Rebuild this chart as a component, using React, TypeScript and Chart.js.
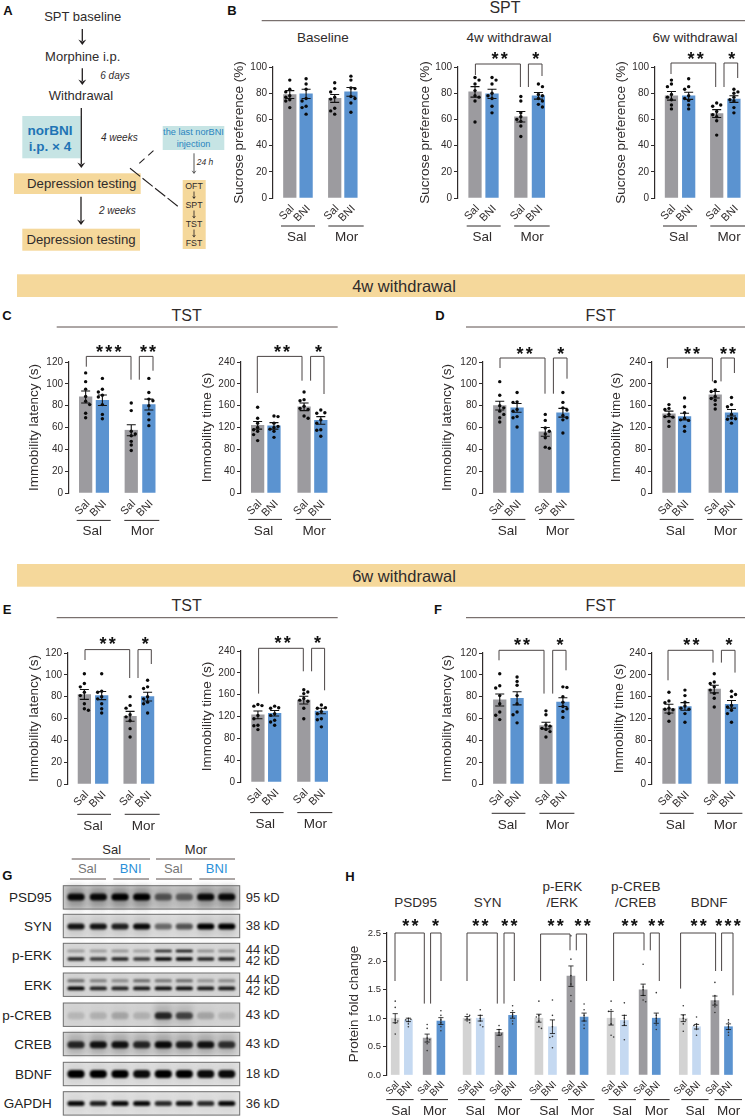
import React, { useEffect, useRef } from "react";
import { Chart, registerables } from "chart.js";

Chart.register(...registerables);

const FONT = '"Liberation Sans", Arial, sans-serif';
const GREY = "#9c9b9f";
const BLUE = "#5b93d0";
const LGREY = "#d3d3d3";
const LBLUE = "#c5d9f1";
const INK = "#2f2b2b";

// ---------- values ----------
const barNames = ["Sal", "BNI", "Sal", "BNI"];
const sptBaseMeans = [79, 79.5, 76, 81];
const sptBaseSems = [3, 3.5, 3, 3.3];
const sptBaseDots = [
  [90, 83, 81, 78, 77, 75, 74, 69],
  [91, 87, 83, 76, 74, 70, 69, 64],
  [88, 83.5, 81, 77, 75.5, 68.5, 66.5, 64],
  [93, 90, 84, 83.5, 77.5, 76, 72.5, 65.5],
];
const spt4Means = [81, 79.5, 62, 78];
const spt4Sems = [4, 3.5, 4, 2.5];
const spt4Dots = [
  [92, 90, 87, 82, 78, 77, 74, 58],
  [92, 90, 87, 80, 78, 76, 70, 65],
  [77.5, 74, 65, 62, 60, 58.5, 55, 47],
  [87, 85, 79, 78, 76, 74, 71.5, 69.5],
];
const spt6Means = [78, 78, 64.5, 75.5];
const spt6Sems = [3.3, 2.7, 3, 2.5];
const spt6Dots = [
  [90, 87, 85, 79, 77, 75, 71, 68],
  [91, 85, 83, 78, 76, 74.5, 71, 68],
  [72.5, 71, 70, 66, 63.5, 62, 59, 48],
  [83, 81, 80, 77, 75, 74, 69, 65],
];
const tst4LatMeans = [88, 85, 57.5, 81];
const tst4LatSems = [5.5, 4.8, 5, 5];
const tst4LatDots = [
  [110, 102, 95, 88.5, 84, 81, 73, 69],
  [105, 95, 92.5, 89.5, 88, 81, 72, 68],
  [82.5, 75.5, 56.5, 54, 52.5, 47.3, 44, 39],
  [105, 92, 86, 84.5, 80, 72.5, 67, 61.7],
];
const tst4TimeMeans = [124, 123, 158, 133];
const tst4TimeSems = [7, 6, 7, 7];
const tst4TimeDots = [
  [157, 137, 128, 120, 116, 113, 107, 96],
  [141, 140, 128, 122, 120, 117, 113, 102],
  [185, 171, 169, 159, 155, 153, 141, 137],
  [152, 147, 146, 134, 128, 116, 115, 104],
];
const fst4LatMeans = [80, 78, 56, 73.5];
const fst4LatSems = [4, 4, 4, 4];
const fst4LatDots = [
  [102, 89.5, 80, 78, 75, 72, 69, 65],
  [92, 83.5, 83, 76.5, 75, 70, 69, 60.5],
  [72, 66.5, 59.5, 56.5, 54, 50.5, 42, 41],
  [92, 83, 78, 76, 71, 69, 67, 55],
];
const fst4TimeMeans = [145, 140, 180, 147];
const fst4TimeSems = [5, 6, 6, 6];
const fst4TimeDots = [
  [162, 155, 153, 144, 140, 139, 131, 122],
  [174, 158, 147, 137, 134, 133, 122, 113],
  [204, 189, 186, 177, 173, 170, 162, 154],
  [175, 162, 158, 144, 137, 136, 135, 128],
];
const tst6LatMeans = [82, 81, 62, 80];
const tst6LatSems = [4.5, 3.7, 4.5, 4];
const tst6LatDots = [
  [101, 92, 89, 84, 81, 73.5, 69, 67.5],
  [101, 85, 84, 80, 78, 73.5, 69, 65],
  [80, 72, 69.5, 63.5, 61.5, 58, 50.7, 43],
  [95, 89, 87.5, 80, 78, 75, 73.5, 65],
];
const tst6TimeMeans = [123, 126, 150, 130];
const tst6TimeSems = [7, 5, 7, 5];
const tst6TimeDots = [
  [142, 140, 139, 122, 116, 104, 103, 96],
  [139, 136, 135, 125, 122, 113, 110, 104],
  [169, 165, 162, 153, 150, 148, 135, 116],
  [141, 136, 135, 129, 125, 116, 114, 101],
];
const fst6LatMeans = [77, 78.5, 53.5, 75];
const fst6LatSems = [5.5, 6, 3, 4];
const fst6LatDots = [
  [101, 90, 88, 81, 73.5, 66, 63, 59],
  [98, 94, 90.5, 81, 73.5, 66, 63.5, 56],
  [67, 63.5, 54, 53, 51, 50, 48, 43],
  [89, 88.5, 80, 75, 71, 69, 66.5, 61],
];
const fst6TimeMeans = [138, 142, 174, 146];
const fst6TimeSems = [8, 7, 7, 7];
const fst6TimeDots = [
  [168, 152, 149, 139, 137, 136, 129, 115],
  [172, 162, 150, 143, 139, 137, 129, 113],
  [202, 187, 184, 178, 172, 166, 157, 141],
  [170, 164, 160, 144, 141, 135, 129, 113],
];
const proteinMeans = [1, 0.97, 0.65, 0.95, 1, 1, 0.75, 1.05, 1, 0.85, 1.74, 1.02, 1, 0.96, 1.5, 1, 1, 0.85, 1.31, 0.85];
const proteinSems = [0.08, 0.03, 0.07, 0.06, 0.03, 0.05, 0.05, 0.05, 0.07, 0.12, 0.18, 0.07, 0.12, 0.09, 0.1, 0.09, 0.06, 0.04, 0.08, 0.05];
const proteinDots = [
  [1.3, 1.19, 0.97, 0.95, 0.91, 0.72],
  [1.0, 0.98, 0.97, 0.94, 0.9, 0.85],
  [0.89, 0.82, 0.65, 0.62, 0.55, 0.43],
  [1.13, 1.05, 0.97, 0.92, 0.85, 0.78],
  [1.07, 1.05, 1.0, 0.97, 0.95, 0.92],
  [1.15, 1.05, 1.0, 0.95, 0.88, 0.85],
  [0.87, 0.8, 0.75, 0.72, 0.7, 0.5],
  [1.22, 1.13, 1.07, 1.03, 0.95, 0.9],
  [1.3, 1.05, 1.02, 0.95, 0.85, 0.82],
  [1.32, 1.05, 0.85, 0.68, 0.66, 0.48],
  [2.45, 2.04, 1.75, 1.6, 1.4, 1.3],
  [1.25, 1.15, 1.05, 0.95, 0.88, 0.82],
  [1.3, 1.15, 1.12, 0.9, 0.7, 0.67],
  [1.27, 1.05, 1.0, 0.93, 0.88, 0.62],
  [1.95, 1.55, 1.5, 1.4, 1.32, 1.29],
  [1.45, 1.05, 1.0, 0.95, 0.88, 0.8],
  [1.22, 1.05, 1.0, 0.97, 0.9, 0.77],
  [1.02, 0.9, 0.87, 0.85, 0.8, 0.7],
  [1.63, 1.4, 1.3, 1.25, 1.2, 1.1],
  [0.97, 0.93, 0.85, 0.8, 0.75, 0.7],
];

const blotLanes = [76, 98.3, 120, 141.7, 163.3, 184.3, 205.7, 226.7];
const psd95Levels = [0.95, 0.95, 1, 1, 0.55, 0.5, 0.95, 0.95];
const synLevels = [0.9, 0.9, 0.85, 0.95, 0.5, 0.6, 1, 1];
const perkUpperLevels = [0.3, 0.3, 0.32, 0.28, 0.85, 0.95, 0.35, 0.35];
const perkLowerLevels = [0.85, 0.75, 0.85, 0.75, 1, 1, 0.85, 0.85];
const erkUpperLevels = [0.5, 0.4, 0.35, 0.5, 0.45, 0.5, 0.3, 0.35];
const erkLowerLevels = [1, 0.85, 0.85, 0.9, 0.95, 0.95, 0.9, 0.9];
const pcrebLevels = [0.12, 0.15, 0.2, 0.15, 0.8, 0.65, 0.2, 0.12];
const crebLevels = [0.8, 0.9, 0.9, 0.8, 0.95, 0.85, 0.9, 0.75];
const bdnfLevels = [1, 1, 1, 0.95, 1, 1, 0.95, 0.95];
const gapdhLevels = [0.95, 0.85, 0.95, 0.95, 0.8, 0.9, 0.8, 0.95];

// ---------- layout ----------
type Bracket = [number, number, number, number, number];
type Star = [number, number, string];
type Group = [number, number, number, number, number, string];
type Panel = {
  titleX: number; axisX: number; top: number; bottom: number; right: number;
  max: number; step: number; title: string; xs: number[]; barW: number;
  means: number[]; sems: number[]; dots: number[][]; colors: string[];
  brackets: Bracket[]; stars: Star[]; groups: Group[]; small?: boolean; names: string[];
};
const four = [GREY, BLUE, GREY, BLUE];
const SP = "Sucrose preference (%)";
const IL = "Immobility latency (s)";
const IT = "Immobility time (s)";

const mk = (p: Partial<Panel>): Panel =>
  ({ barW: 12.6, colors: four, names: barNames, ...p } as Panel);

const panels: Panel[] = [
  mk({ titleX: 239, axisX: 273, top: 67, bottom: 198, right: 372, max: 100, step: 20, title: SP,
    xs: [290.5, 307.5, 337.3, 354.2], means: sptBaseMeans, sems: sptBaseSems, dots: sptBaseDots,
    brackets: [], stars: [],
    groups: [[281, 315, 226, 296.7, 237.7, "Sal"], [328.3, 363.7, 226, 346.7, 237.7, "Mor"]] }),
  mk({ titleX: 425, axisX: 458.3, top: 67, bottom: 198, right: 560, max: 100, step: 20, title: SP,
    xs: [476, 493.7, 523.7, 542], means: spt4Means, sems: spt4Sems, dots: spt4Dots,
    brackets: [[475.7, 520.7, 64, 75, 87], [528.7, 542.3, 64, 87, 76]],
    stars: [[500, 55, "**"], [536, 55, "*"]],
    groups: [[467, 501, 226, 482.5, 237.7, "Sal"], [514.5, 550, 226, 532.5, 237.7, "Mor"]] }),
  mk({ titleX: 621, axisX: 655, top: 67, bottom: 198, right: 747, max: 100, step: 20, title: SP,
    xs: [672.2, 690.2, 719.5, 737.5], means: spt6Means, sems: spt6Sems, dots: spt6Dots,
    brackets: [[671, 715.7, 63, 74, 87], [724, 737.7, 63, 87, 78]],
    stars: [[695.7, 55, "**"], [731.7, 55, "*"]],
    groups: [[663, 697, 226, 678.7, 237.7, "Sal"], [710.3, 745, 226, 729, 237.7, "Mor"]] }),
  mk({ titleX: 34, axisX: 69, top: 362.3, bottom: 493.3, right: 175, max: 120, step: 20, title: IL,
    xs: [86.3, 103.7, 133.7, 152], means: tst4LatMeans, sems: tst4LatSems, dots: tst4LatDots,
    brackets: [[86.3, 131, 356.7, 367, 380], [139.3, 153, 356.7, 380, 371]],
    stars: [[108.7, 348, "***"], [148, 348, "**"]],
    groups: [[76.7, 110.7, 520.7, 92.3, 532, "Sal"], [124.3, 159.3, 520.7, 142.3, 532, "Mor"]] }),
  mk({ titleX: 206.7, axisX: 240.7, top: 362.3, bottom: 493.3, right: 345, max: 240, step: 40, title: IT,
    xs: [258, 275, 306.3, 323.7], means: tst4TimeMeans, sems: tst4TimeSems, dots: tst4TimeDots,
    brackets: [[257, 301.7, 356.7, 393.3, 381], [310.3, 323.7, 356.7, 381, 394.3]],
    stars: [[281.7, 348, "**"], [318.3, 348, "*"]],
    groups: [[248, 281.7, 519.7, 263.3, 531.7, "Sal"], [295.3, 330.7, 519.7, 313.7, 531.7, "Mor"]] }),
  mk({ titleX: 447.3, axisX: 483.3, top: 362.3, bottom: 493.3, right: 590, max: 120, step: 20, title: IL,
    xs: [500.7, 518.7, 548, 566.3], means: fst4LatMeans, sems: fst4LatSems, dots: fst4LatDots,
    brackets: [[500.3, 545.3, 358.3, 368.3, 394], [553.7, 567.3, 358.3, 394, 379]],
    stars: [[525, 350, "**"], [561, 350, "*"]],
    groups: [[492, 525.7, 519.7, 507.7, 531.7, "Sal"], [539.3, 574.7, 519.7, 557.7, 531.7, "Mor"]] }),
  mk({ titleX: 616, axisX: 652.3, top: 362.3, bottom: 493.3, right: 747, max: 240, step: 40, title: IT,
    xs: [670, 686.3, 718.3, 735.3], means: fst4TimeMeans, sems: fst4TimeSems, dots: fst4TimeDots,
    brackets: [[667.7, 712.7, 358.3, 368.3, 381.7], [721.3, 734.7, 358.3, 381.7, 373.3]],
    stars: [[692.3, 350, "**"], [728.3, 350, "**"]],
    groups: [[660, 694, 519.7, 675.7, 531.7, "Sal"], [707.3, 742.7, 519.7, 725.7, 531.7, "Mor"]] }),
  mk({ titleX: 34, axisX: 68, top: 652.7, bottom: 783.7, right: 175, max: 120, step: 20, title: IL,
    xs: [85, 103, 132.5, 150.7], means: tst6LatMeans, sems: tst6LatSems, dots: tst6LatDots,
    brackets: [[85, 129.7, 649.3, 659.7, 677.7], [138, 151.3, 649.3, 677.7, 663.7]],
    stars: [[107.7, 640, "**"], [145.3, 640, "*"]],
    groups: [[77.3, 111, 814, 93, 825.7, "Sal"], [124.7, 159.7, 814, 143.3, 825.7, "Mor"]] }),
  mk({ titleX: 206.7, axisX: 240.7, top: 650.7, bottom: 782, right: 345, max: 240, step: 40, title: IT,
    xs: [258.3, 275.7, 306, 324.3], means: tst6TimeMeans, sems: tst6TimeSems, dots: tst6TimeDots,
    brackets: [[258.3, 303, 648, 693.3, 671], [311.3, 324.3, 648, 671, 690]],
    stars: [[282.3, 639, "**"], [317.3, 639, "*"]],
    groups: [[249.7, 283.3, 812.3, 265, 824, "Sal"], [297, 332, 812.3, 315, 824, "Mor"]] }),
  mk({ titleX: 447.3, axisX: 483.3, top: 652.7, bottom: 783.7, right: 590, max: 120, step: 20, title: IL,
    xs: [500.7, 518.7, 548.7, 566.3], means: fst6LatMeans, sems: fst6LatSems, dots: fst6LatDots,
    brackets: [[499.3, 544.3, 650, 660, 693.3], [553, 566.3, 650, 693.3, 670]],
    stars: [[522.3, 641, "**"], [560.3, 641, "*"]],
    groups: [[492, 525.7, 813, 507.7, 825, "Sal"], [539.7, 574.7, 813, 557.7, 825, "Mor"]] }),
  mk({ titleX: 619.3, axisX: 652.3, top: 652.7, bottom: 783.7, right: 747, max: 240, step: 40, title: IT,
    xs: [670, 686.7, 717.3, 735.3], means: fst6TimeMeans, sems: fst6TimeSems, dots: fst6TimeDots,
    brackets: [[668.3, 713.3, 650, 680, 662.3], [721.7, 735.3, 650, 662.3, 672.3]],
    stars: [[691.7, 641, "**"], [729.3, 641, "*"]],
    groups: [[660, 694, 813, 675.7, 825, "Sal"], [707.3, 742.7, 813, 725.7, 825, "Mor"]] }),
  mk({ titleX: 354.3, axisX: 386.7, top: 932.7, bottom: 1074.3, right: 747, max: 2.5, step: 0.5,
    title: "Protein fold change", barW: 8, small: true,
    xs: [395, 408.3, 427.3, 441.2, 467.7, 481, 500, 513.7, 540.3, 554, 572.7, 586, 613.3, 626.7, 645.7, 659, 686.3, 699.7, 718.3, 732],
    means: proteinMeans, sems: proteinSems, dots: proteinDots,
    colors: [0, 1, 2, 3, 4].flatMap(() => [LGREY, LBLUE, GREY, BLUE]),
    names: [0, 1, 2, 3, 4].flatMap(() => barNames),
    brackets: [
      [394.7, 424, 932.7, 980.7, 1003.3], [430.3, 440.7, 932.7, 1003.3, 980.7],
      [466.7, 497, 932.7, 980.7, 1003.3], [503.7, 514, 932.7, 1003.3, 980.7],
      [540.3, 569.7, 933.7, 980.7, 950], [576, 586.3, 933.7, 950, 980.7],
      [613.3, 643.7, 932.7, 980.7, 950], [650, 659, 932.7, 950, 980.7],
      [680.3, 715.3, 932.7, 988.3, 970.7], [721.3, 732.7, 932.7, 970.7, 995],
    ],
    stars: [
      [410, 922, "**"], [435.3, 922, "*"], [480, 922, "**"], [509, 922, "**"], [555.3, 922, "**"],
      [582.3, 922, "**"], [629.3, 922, "**"], [656, 922, "**"], [698.3, 922, "**"], [727.7, 922, "***"],
    ],
    groups: [
      [386, 413.3, 1099.3, 400.7, 1110.7, "Sal"], [420.3, 447.7, 1099.3, 434.3, 1110.7, "Mor"],
      [457.7, 485, 1099.3, 475, 1110.7, "Sal"], [494.3, 521.7, 1099.3, 508.3, 1110.7, "Mor"],
      [530, 557.7, 1099.3, 548.7, 1110.7, "Sal"], [567.7, 594.3, 1099.3, 582, 1110.7, "Mor"],
      [608.3, 635.7, 1099.3, 622, 1110.7, "Sal"], [643.3, 669.3, 1099.3, 656, 1110.7, "Mor"],
      [681, 708.3, 1099.3, 695, 1110.7, "Sal"], [714.3, 741.7, 1099.3, 728.3, 1110.7, "Mor"],
    ] }),
];

// Spreads dots of close value sideways, like a swarm plot.
function swarm(values: number[], pxPerUnit: number, gap: number, minDist: number): number[] {
  const placed: [number, number][] = [];
  return values.map((v, i) => {
    const y = v * pxPerUnit;
    const sign = i % 2 ? 1 : -1;
    for (const c of [0, sign, -sign, 2 * sign, -2 * sign, 3 * sign, -3 * sign]) {
      const dx = c * gap;
      if (placed.every(([px, py]) => Math.hypot(px - dx, py - y) >= minDist)) {
        placed.push([dx, y]);
        return dx;
      }
    }
    return 0;
  });
}

function PanelChart({ p }: { p: Panel }) {
  const ref = useRef<HTMLCanvasElement>(null);
  const titleSize = 13.5;
  const cl = p.titleX - 0.6 * titleSize;
  const ct = p.top - 34;
  const cb = p.bottom + 50;
  const w = Math.round(p.right - cl);
  const h = Math.round(cb - ct);
  useEffect(() => {
    const pxPerUnit = (p.bottom - p.top) / p.max;
    const dots = p.dots.flatMap((vals, i) => {
      const off = swarm(vals, pxPerUnit, p.small ? 2.6 : 4.2, p.small ? 2.2 : 3.6);
      return vals.map((v, j) => ({ x: p.xs[i] + off[j], y: v }));
    });
    const overlay = {
      id: "overlay",
      afterDatasetDraw(chart: any, args: any) {
        if (args.index !== 1) return;
        const { ctx, scales } = chart;
        ctx.save();
        ctx.strokeStyle = "#111";
        ctx.lineWidth = p.small ? 0.8 : 1.1;
        const cap = p.small ? 2.6 : 4.5;
        p.means.forEach((m, i) => {
          const x = scales.x.getPixelForValue(p.xs[i]);
          const hi = scales.y.getPixelForValue(m + p.sems[i]);
          const lo = scales.y.getPixelForValue(m - p.sems[i]);
          ctx.beginPath();
          ctx.moveTo(x, hi);
          ctx.lineTo(x, lo);
          ctx.moveTo(x - cap, hi);
          ctx.lineTo(x + cap, hi);
          ctx.moveTo(x - cap, lo);
          ctx.lineTo(x + cap, lo);
          ctx.stroke();
        });
        ctx.restore();
      },
      afterDraw(chart: any) {
        const { ctx, scales } = chart;
        // rotated bar names, anchored on the scale position of each bar
        ctx.save();
        ctx.fillStyle = INK;
        ctx.textAlign = "right";
        ctx.textBaseline = "middle";
        ctx.font = `${p.small ? 10 : 11}px ${FONT}`;
        p.xs.forEach((x, i) => {
          ctx.save();
          ctx.translate(scales.x.getPixelForValue(x) + 2.5, scales.y.getPixelForValue(0) + (p.small ? 8 : 9));
          ctx.rotate(-Math.PI / 4);
          ctx.fillText(p.names[i], 0, 0);
          ctx.restore();
        });
        ctx.restore();
        const ox = scales.x.left - (p.axisX - cl) - cl;
        ctx.save();
        ctx.translate(ox, -ct);
        ctx.strokeStyle = "#4a4444";
        ctx.lineWidth = 1;
        p.brackets.forEach(([x1, x2, top, yl, yr]) => {
          ctx.beginPath();
          ctx.moveTo(x1, yl);
          ctx.lineTo(x1, top);
          ctx.lineTo(x2, top);
          ctx.lineTo(x2, yr);
          ctx.stroke();
        });
        ctx.fillStyle = "#111";
        ctx.textAlign = "center";
        ctx.textBaseline = "alphabetic";
        ctx.font = `bold 18px ${FONT}`;
        p.stars.forEach(([x, y, s]) => {
          const step = 9.2;
          [...s].forEach((c, i) => ctx.fillText(c, x + (i - (s.length - 1) / 2) * step, y + 10));
        });
        ctx.strokeStyle = INK;
        ctx.fillStyle = INK;
        ctx.textBaseline = "middle";
        ctx.font = `13.5px ${FONT}`;
        p.groups.forEach(([x1, x2, ly, tx, ty, s]) => {
          ctx.beginPath();
          ctx.moveTo(x1, ly);
          ctx.lineTo(x2, ly);
          ctx.stroke();
          ctx.fillText(s, tx, ty);
        });
        ctx.restore();
      },
    };
    const chart = new Chart(ref.current!, {
      type: "bar",
      data: {
        datasets: [
          {
            type: "bar",
            data: p.means.map((m, i) => ({ x: p.xs[i], y: m })),
            backgroundColor: p.colors,
            barThickness: p.barW,
            order: 2,
          },
          {
            type: "scatter",
            data: dots,
            pointRadius: p.small ? 0.8 : 1.7,
            backgroundColor: p.small ? "#333" : "#0a0a0a",
            borderWidth: 0,
            order: 1,
          },
        ],
      } as any,
      options: {
        animation: false,
        responsive: false,
        devicePixelRatio: 1,
        layout: { padding: { top: p.top - ct, left: 0, right: 0, bottom: 0 } },
        plugins: { legend: { display: false }, tooltip: { enabled: false } },
        scales: {
          x: {
            type: "linear",
            offset: false,
            min: p.axisX,
            max: p.axisX + (w - Math.round(p.axisX - cl)),
            bounds: "data",
            border: { display: false },
            grid: { display: false, offset: false, drawTicks: false },
            afterFit: (ax: any) => {
              ax.height = cb - p.bottom;
              ax.paddingLeft = ax.paddingRight = ax.paddingTop = ax.paddingBottom = 0;
            },
            ticks: { display: false },
          },
          y: {
            min: 0,
            max: p.max,
            border: { display: true, color: INK, width: 1.2 },
            grid: { drawOnChartArea: false, drawTicks: true, tickLength: 4, color: INK, lineWidth: 1 },
            afterFit: (ax: any) => {
              ax.width = Math.round(p.axisX - cl);
              ax.paddingTop = ax.paddingBottom = ax.paddingLeft = ax.paddingRight = 0;
            },
            title: {
              display: true,
              text: p.title,
              color: INK,
              padding: 0,
              font: { family: FONT, size: titleSize, weight: "normal" },
            },
            ticks: {
              stepSize: p.step,
              padding: 2,
              color: INK,
              font: { family: FONT, size: p.small ? 9.5 : 10 },
              callback: (v: any) => (p.small ? Number(v).toFixed(1) : String(v)),
            },
          },
        },
      } as any,
      plugins: [overlay],
    });
    return () => chart.destroy();
  }, []);
  return (
    <canvas
      ref={ref}
      width={w}
      height={h}
      style={{ position: "absolute", left: cl, top: ct, width: w, height: h, display: "block" }}
    />
  );
}

// ---------- SVG helpers ----------
const T = (p: any) => {
  const { x, y, s = 13, c = INK, w, i, a = "middle", children } = p;
  return (
    <text x={x} y={y} fontSize={s} fill={c} fontWeight={w ? "bold" : "normal"} fontStyle={i ? "italic" : "normal"}
      textAnchor={a} dominantBaseline="central" fontFamily={FONT}>
      {children}
    </text>
  );
};
const Arrow = ({ x, y1, y2, head = 4, c = "#231f20", sw = 1.3 }: any) => (
  <g>
    <line x1={x} y1={y1} x2={x} y2={y2 - head} stroke={c} strokeWidth={sw} />
    <polygon points={`${x - head},${y2 - head * 1.4} ${x},${y2 - head * 0.9} ${x + head},${y2 - head * 1.4} ${x},${y2}`} fill={c} />
  </g>
);
const Ln = ({ x1, x2, y, c = "#5a4f4d", sw = 1 }: any) => (
  <line x1={x1} x2={x2} y1={y} y2={y} stroke={c} strokeWidth={sw} />
);

const ORANGE = "#f5d89b";
const TEAL = "#c6e4e4";
const blotRows = [
  { name: "PSD95", kd: ["95 kD"], top: 885.7, bg: "#cfcfcf", smear: 0.5, bands: [{ at: 0.48, t: 7, lv: psd95Levels }] },
  { name: "SYN", kd: ["38 kD"], top: 914.3, bg: "#e0e0e0", smear: 0.18, bands: [{ at: 0.52, t: 6, lv: synLevels }] },
  { name: "p-ERK", kd: ["44 kD", "42 kD"], top: 943.3, bg: "#dadada", smear: 0.06, bands: [{ at: 0.33, t: 2.5, lv: perkUpperLevels }, { at: 0.67, t: 3.5, lv: perkLowerLevels }] },
  { name: "ERK", kd: ["44 kD", "42 kD"], top: 973, bg: "#d9d9d9", smear: 0.08, bands: [{ at: 0.33, t: 3, lv: erkUpperLevels }, { at: 0.66, t: 3.8, lv: erkLowerLevels }] },
  { name: "p-CREB", kd: ["43 kD"], top: 1003, bg: "#d6d6d6", smear: 0.35, bands: [{ at: 0.55, t: 7, lv: pcrebLevels }] },
  { name: "CREB", kd: ["43 kD"], top: 1032.3, bg: "#d9d9d9", smear: 0.4, bands: [{ at: 0.53, t: 7, lv: crebLevels }] },
  { name: "BDNF", kd: ["18 kD"], top: 1062.3, bg: "#e2e2e2", smear: 0.1, bands: [{ at: 0.5, t: 8, lv: bdnfLevels }] },
  { name: "GAPDH", kd: ["36 kD"], top: 1091.7, bg: "#e3e3e3", smear: 0.08, bands: [{ at: 0.5, t: 5, lv: gapdhLevels }] },
];

function Figure() {
  return (
    <svg width={747} height={1117} style={{ position: "absolute", left: 0, top: 0 }}>
      <defs>
        <filter id="b1" x="-30%" y="-200%" width="160%" height="500%"><feGaussianBlur stdDeviation="1.3" /></filter>
        <filter id="b3" x="-30%" y="-100%" width="160%" height="300%"><feGaussianBlur stdDeviation="3" /></filter>
      </defs>
      {/* panel letters */}
      <T x={8} y={10} s={13} w c="#111">A</T>
      <T x={232} y={10} s={13} w c="#111">B</T>
      <T x={7} y={315.7} s={13} w c="#111">C</T>
      <T x={440} y={315.7} s={13} w c="#111">D</T>
      <T x={7} y={609} s={13} w c="#111">E</T>
      <T x={438} y={609} s={13} w c="#111">F</T>
      <T x={7.3} y={875.7} s={13} w c="#111">G</T>
      <T x={350} y={876} s={13} w c="#111">H</T>
      {/* panel A */}
      <rect x={22.3} y={116} width={58.4} height={42.3} fill={TEAL} />
      <rect x={14} y={173.3} width={126.7} height={20.7} fill={ORANGE} />
      <rect x={22.3} y={228.7} width={117.7} height={22} fill={ORANGE} />
      <rect x={162.7} y={126} width={61.6} height={24} fill={TEAL} />
      <rect x={182.7} y={180} width={23} height={69} fill={ORANGE} />
      <T x={82.7} y={16.7}>SPT baseline</T>
      <Arrow x={82.3} y1={29} y2={45} />
      <T x={82.7} y={56}>Morphine i.p.</T>
      <Arrow x={82.3} y1={68.3} y2={85} />
      <T x={115} y={75} s={10} i>6 days</T>
      <T x={81} y={95.7}>Withdrawal</T>
      <Arrow x={81.3} y1={108} y2={168} />
      <T x={50} y={130} s={13.5} w c="#1f74b5">norBNI</T>
      <T x={50} y={146} s={13.5} w c="#1f74b5">i.p. × 4</T>
      <T x={119.3} y={137.3} s={10} i>4 weeks</T>
      <T x={81.7} y={183.3} s={13.2}>Depression testing</T>
      <Arrow x={81} y1={196.7} y2={225} />
      <T x={117.3} y={210.7} s={10} i>2 weeks</T>
      <T x={81} y={239.7} s={13.2}>Depression testing</T>
      <line x1={139.3} y1={163.3} x2={155.3} y2={149} stroke="#231f20" strokeWidth={1.1} strokeDasharray="7 5" />
      <line x1={130} y1={168.3} x2={178.3} y2={206.7} stroke="#231f20" strokeWidth={1.1} strokeDasharray="13 3" />
      <T x={193.5} y={132} s={9.2} c="#2a85c0">the last norBNI</T>
      <T x={193.5} y={144} s={9.2} c="#2a85c0">injection</T>
      <Arrow x={194} y1={153.3} y2={174} head={2.5} c="#555" sw={1} />
      <T x={205} y={162.3} s={8.5} i>24 h</T>
      <T x={194} y={186} s={8.8}>OFT</T>
      <T x={194} y={204.7} s={8.8}>SPT</T>
      <T x={194} y={224} s={8.8}>TST</T>
      <T x={194} y={243.3} s={8.8}>FST</T>
      <Arrow x={194} y1={191.5} y2={199} head={2} sw={0.8} />
      <Arrow x={194} y1={210.5} y2={218.5} head={2} sw={0.8} />
      <Arrow x={194} y1={229.5} y2={237.5} head={2} sw={0.8} />
      {/* headers */}
      <T x={505} y={7} s={16}>SPT</T>
      <Ln x1={261.7} x2={745} y={20.7} />
      <T x={323} y={37} s={13.5}>Baseline</T>
      <T x={509} y={37} s={13.5}>4w withdrawal</T>
      <T x={695} y={37} s={13.5}>6w withdrawal</T>
      <rect x={17} y={274.3} width={728} height={22.7} fill={ORANGE} />
      <T x={404} y={286} s={16.5}>4w withdrawal</T>
      <rect x={17} y={564} width={728} height={22.7} fill={ORANGE} />
      <T x={404} y={575.5} s={16.5}>6w withdrawal</T>
      <T x={186.7} y={315} s={16}>TST</T>
      <Ln x1={56.7} x2={337.7} y={327} />
      <T x={600.7} y={315} s={16}>FST</T>
      <Ln x1={466} x2={745} y={327} />
      <T x={186.7} y={605} s={16}>TST</T>
      <Ln x1={56.7} x2={337.7} y={617.7} />
      <T x={600.7} y={605} s={16}>FST</T>
      <Ln x1={466} x2={745} y={617.7} />
      {/* panel G */}
      <T x={111.7} y={849} s={13}>Sal</T>
      <T x={196} y={849} s={13}>Mor</T>
      <Ln x1={71.7} x2={150} y={859} />
      <Ln x1={156} x2={235} y={859} />
      <T x={87.3} y={868.3} s={13} c="#777">Sal</T>
      <T x={130.7} y={868.3} s={13} c="#2a8fd8">BNI</T>
      <T x={173.3} y={868.3} s={13} c="#777">Sal</T>
      <T x={216.7} y={868.3} s={13} c="#2a8fd8">BNI</T>
      <Ln x1={70} x2={106} y={879} />
      <Ln x1={113.3} x2={149} y={879} />
      <Ln x1={156} x2={192} y={879} />
      <Ln x1={199.3} x2={235} y={879} />
      {blotRows.map((r) => (
        <g key={r.name}>
          <rect x={63.3} y={r.top} width={176.4} height={23.4} fill={r.bg} />
          {blotLanes.map((x, i) => (
            <rect key={i} x={x - 9} y={r.top + 1} width={18} height={21} fill="#555"
              opacity={r.smear * Math.max(...r.bands.map((b) => b.lv[i]))} filter="url(#b3)" />
          ))}
          {r.bands.map((b, k) =>
            blotLanes.map((x, i) => (
              <rect key={`${k}-${i}`} x={x - 8.6} y={r.top + 23.4 * b.at - b.t / 2} width={17.2} height={b.t}
                rx={b.t / 2} fill="#050505" opacity={b.lv[i]} filter="url(#b1)" />
            )),
          )}
          <rect x={63.3} y={r.top} width={176.4} height={23.4} fill="none" stroke="#6e6e6e" strokeWidth={1} />
          <T x={51.7} y={r.top + 12} a="end" c="#222" s={13.5}>{r.name}</T>
          {r.kd.length === 1 ? (
            <T x={245.7} y={r.top + 11.5} a="start">{r.kd[0]}</T>
          ) : (
            <>
              <T x={245.7} y={r.top + 6.5} a="start">{r.kd[0]}</T>
              <T x={245.7} y={r.top + 17} a="start">{r.kd[1]}</T>
            </>
          )}
        </g>
      ))}
      {/* panel H titles */}
      <T x={415.7} y={902.7} s={13.5}>PSD95</T>
      <T x={487.7} y={902.7} s={13.5}>SYN</T>
      <T x={562.3} y={886} s={13.5}>p-ERK</T>
      <T x={562.3} y={902.7} s={13.5}>/ERK</T>
      <T x={635.7} y={886} s={13.5}>p-CREB</T>
      <T x={635.7} y={902.7} s={13.5}>/CREB</T>
      <T x={709} y={902.7} s={13.5}>BDNF</T>
    </svg>
  );
}

export default function App() {
  useEffect(() => {
    document.body.style.margin = "0";
    document.body.style.overflow = "hidden";
  }, []);
  return (
    <div style={{ position: "absolute", left: 0, top: 0, width: 747, height: 1117, background: "#fff", overflow: "hidden" }}>
      <Figure />
      {panels.map((p, i) => (
        <PanelChart key={i} p={p} />
      ))}
    </div>
  );
}
